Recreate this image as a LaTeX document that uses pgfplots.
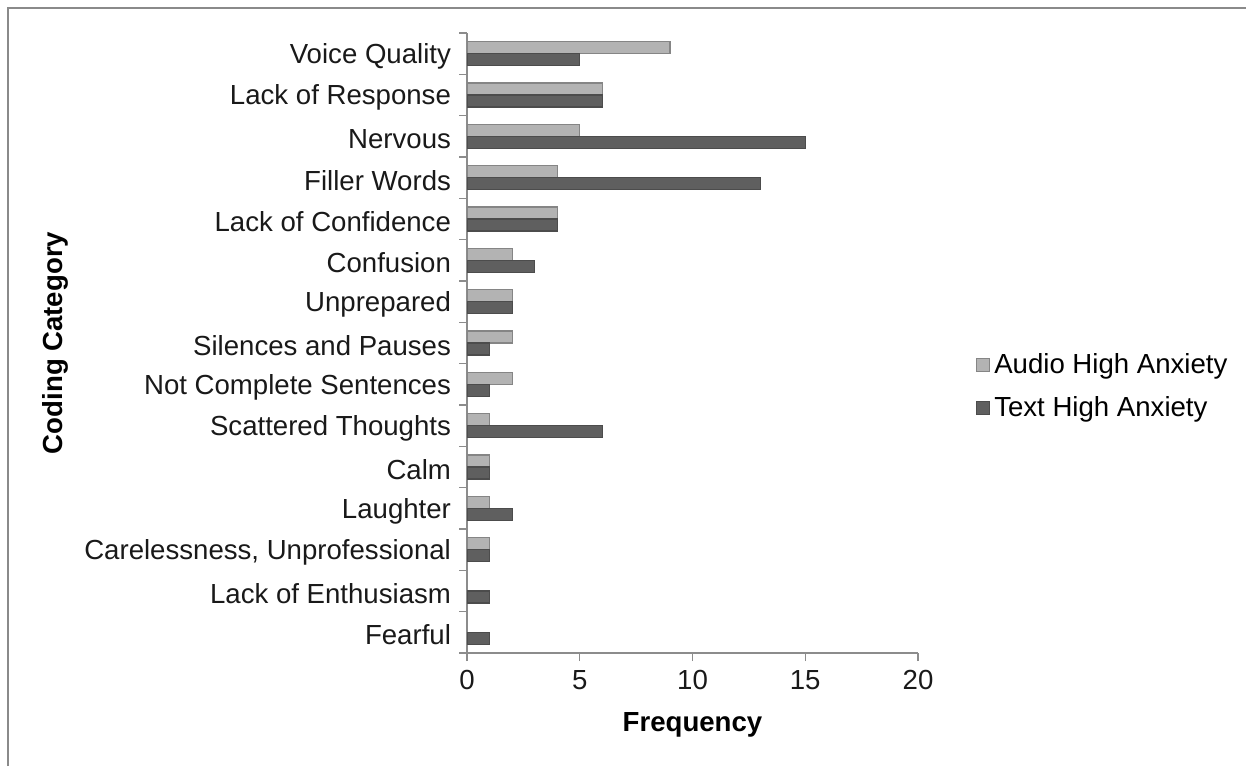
\documentclass[border=0pt]{standalone}
\usepackage{pgfplots}
\pgfplotsset{compat=1.18}
\usepackage{fontspec}
\setmainfont{Liberation Sans}
\definecolor{audiofill}{HTML}{B3B3B3}
\definecolor{audiodraw}{HTML}{858585}
\definecolor{textfill}{HTML}{5F5F5F}
\definecolor{textdraw}{HTML}{4C4C4C}
\definecolor{axisgray}{HTML}{8C8C8C}
\definecolor{framegray}{HTML}{8A8A8A}
\newcommand\yl[1]{#1\kern4.5pt}
\begin{document}
\begin{tikzpicture}
\useasboundingbox (0,0) rectangle (623pt,383pt);
\draw[framegray, line width=1pt] (4pt,0) -- (4pt,379pt) -- (623pt,379pt);
\begin{axis}[
  at={(233.5pt,56.5pt)}, anchor=south west,
  scale only axis, width=225.5pt, height=310pt,
  xbar, bar width=6pt,
  xmin=0, xmax=20, ymin=-0.5, ymax=14.5,
  xtick={0,5,10,15,20},
  ytick={-0.5,0.5,...,14.5},
  yticklabels={},
  extra y ticks={0,...,14},
  extra y tick labels={\yl{Fearful},\yl{Lack of Enthusiasm},\yl{Carelessness, Unprofessional},\yl{Laughter},\yl{Calm},\yl{Scattered Thoughts},\yl{Not Complete Sentences},\yl{Silences and Pauses},\yl{Unprepared},\yl{Confusion},\yl{Lack of Confidence},\yl{Filler Words},\yl{Nervous},\yl{Lack of Response},\yl{Voice Quality}},
  extra y tick style={major tick length=0pt, tick style={draw=none}},
  yticklabel style={yshift=-1.3pt},
  tick style={axisgray, line width=0.6pt},
  major tick length=4pt,
  tick align=outside,
  axis x line*=bottom, axis y line*=left,
  axis line style={axisgray, line width=0.6pt},
  tick label style={font=\fontsize{13.8}{16}\selectfont, text=black!90},
  xticklabel style={yshift=-1pt},
  /pgf/number format/assume math mode=true,
  xlabel={\textbf{Frequency}},
  ylabel={\textbf{Coding Category}},
  label style={font=\fontsize{13.8}{16}\selectfont},
  xlabel style={at={(axis description cs:0.5,-0.116)}, anchor=center},
  ylabel style={at={(axis description cs:-0.913,0.5)}, anchor=center},
  legend style={at={(1.115,0.43)}, anchor=west, draw=none, fill=none,
    font=\fontsize{13.8}{16}\selectfont, row sep=6pt},
  legend cell align=left,
  legend image code/.code={\draw[#1] (0pt,-3.2pt) rectangle (6.4pt,3.2pt);},
]
\addplot[fill=audiofill, draw=audiodraw, line width=0.6pt, bar shift=3pt] coordinates {
  (9,14) (6,13) (5,12) (4,11) (4,10) (2,9) (2,8) (2,7) (2,6) (1,5) (1,4) (1,3) (1,2)
};
\addlegendentry{Audio High Anxiety}
\addplot[fill=textfill, draw=textdraw, line width=0.6pt, bar shift=-3pt] coordinates {
  (5,14) (6,13) (15,12) (13,11) (4,10) (3,9) (2,8) (1,7) (1,6) (6,5) (1,4) (2,3) (1,2) (1,1) (1,0)
};
\addlegendentry{Text High Anxiety}
\end{axis}
\end{tikzpicture}
\end{document}
